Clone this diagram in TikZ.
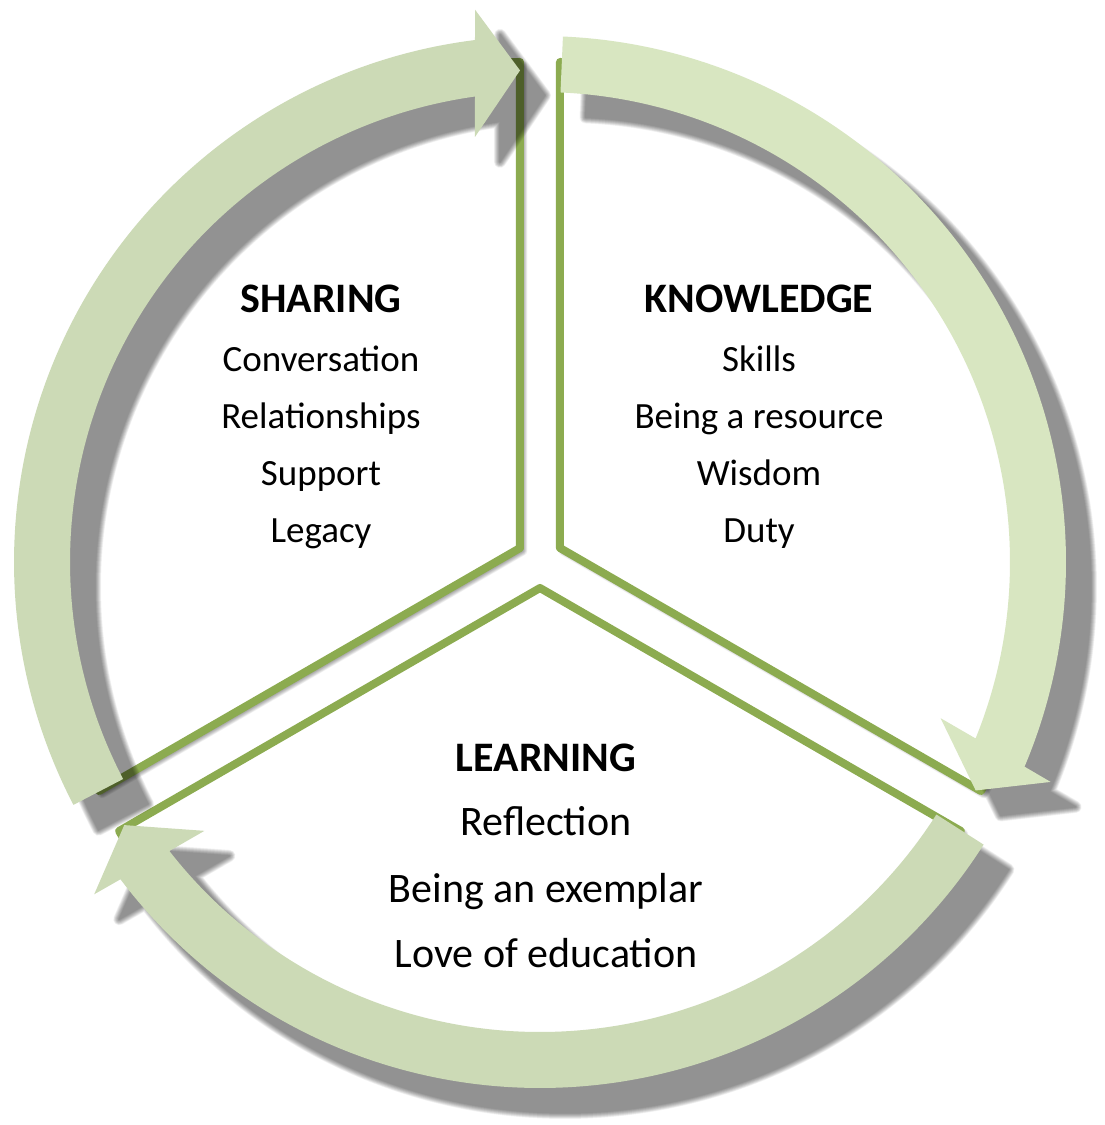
\documentclass[tikz,border=0pt]{standalone}
\usepackage{fontspec}
\setmainfont{Carlito}
\definecolor{lineGreen}{HTML}{8CAB50}
\definecolor{arrowSage}{HTML}{CCDAB6}
\definecolor{arrowPale}{HTML}{D8E6C1}

% one block arc of the cycle, centred on the origin, tail at 207.5 deg, head pointing clockwise
\newcommand\cyclearrow{(207.5:526) arc[start angle=207.5,end angle=97.1,radius=526]
  -- (96.7:556) -- (92.33:492) -- (98.7:430) -- (97.95:470)
  arc[start angle=97.95,end angle=207.5,radius=470] -- cycle}
% soft shadow: stacked translucent copies growing outward
\newcommand\blurpath[3]{%
  \foreach \k in {1,...,12}{%
    \begin{scope}[transparency group, opacity=#3]
      \filldraw[black, line width=\k*#2/12, line join=round] #1;
    \end{scope}}}
\newcommand\sectorA{(-20,14) -- ++(90:486) arc[start angle=90,end angle=210,radius=486] -- cycle}
\newcommand\sectorB{(20,14) -- ++(-30:486) arc[start angle=-30,end angle=90,radius=486] -- cycle}
\newcommand\sectorC{(0,-26) -- ++(210:486) arc[start angle=210,end angle=330,radius=486] -- cycle}

\begin{document}
\begin{tikzpicture}[x=1pt,y=1pt,
  sector/.style={draw=lineGreen, line width=8, line join=round, fill=white},
  small/.style={anchor=base, font=\fontsize{37}{44}\selectfont},
  large/.style={anchor=base, font=\fontsize{42}{50}\selectfont},
  heading/.style={anchor=base, font=\fontsize{42}{50}\selectfont\bfseries}]
\useasboundingbox[fill=white] (-540,-563) rectangle (565,562);

% sectors with their own faint shadows
\begin{scope}[shift={(3,-3)}]\blurpath{\sectorA}{9}{0.03}\end{scope}
\path[sector] \sectorA;
\begin{scope}[shift={(3,-3)}]\blurpath{\sectorB}{9}{0.03}\end{scope}
\path[sector] \sectorB;
\begin{scope}[shift={(3,-3)}]\blurpath{\sectorC}{9}{0.03}\end{scope}
\path[sector] \sectorC;

% arrow shadows
\foreach \r in {0,-120,-240}{
  \begin{scope}[shift={(25,-25)}, rotate=\r]
    \blurpath{\cyclearrow}{12}{0.042}
  \end{scope}}

% arrows
\fill[arrowSage] \cyclearrow;
\fill[arrowPale, rotate=-120] \cyclearrow;
\fill[arrowSage, rotate=-240] \cyclearrow;

% texts
\node[heading] (sh) at (-219,249) {SHARING};
\node[small] (sh1) at (-219,190) {Conversation};
\node[small] (sh2) at (-219,133) {Relationships};
\node[small] (sh3) at (-219,77) {Support};
\node[small] (sh4) at (-219,20) {Legacy};

\node[heading] (kn) at (219,249) {KNOWLEDGE};
\node[small] (kn1) at (219,190) {Skills};
\node[small] (kn2) at (219,133) {Being a resource};
\node[small] (kn3) at (219,77) {Wisdom};
\node[small] (kn4) at (219,20) {Duty};

\node[heading] (le) at (6,-209) {LEARNING};
\node[large] (le1) at (6,-273) {Reflection};
\node[large] (le2) at (6,-340) {Being an exemplar};
\node[large] (le3) at (6,-405) {Love of education};
\end{tikzpicture}
\end{document}
